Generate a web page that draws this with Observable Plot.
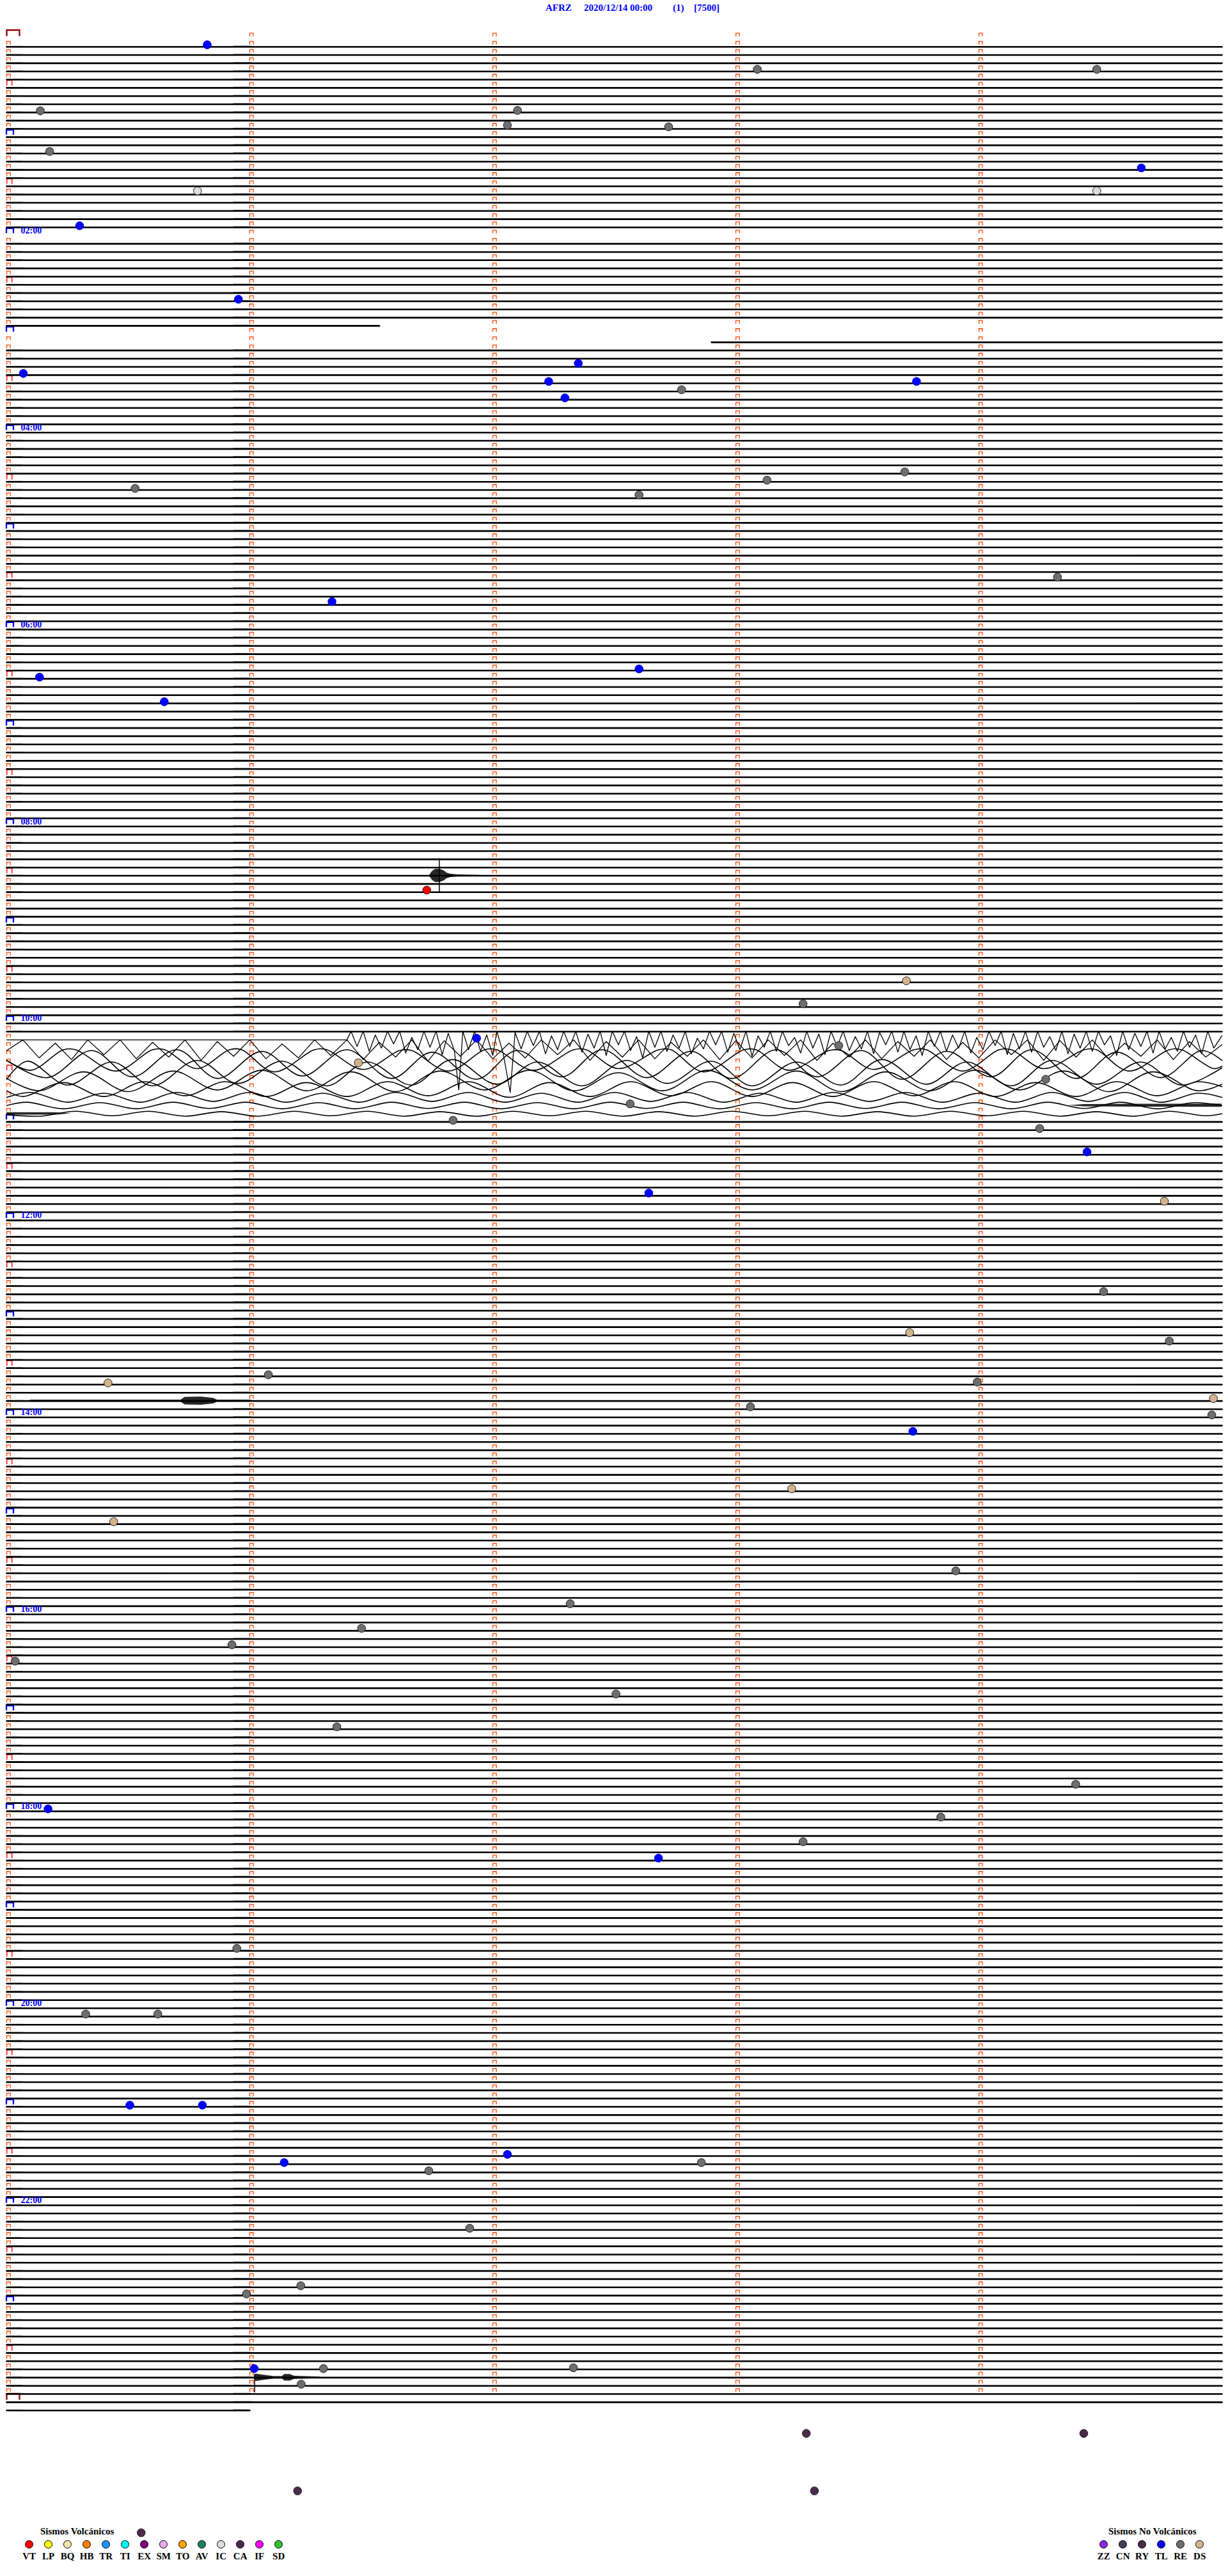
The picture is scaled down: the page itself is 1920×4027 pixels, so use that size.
<!DOCTYPE html>
<html><head><meta charset="utf-8">
<script src="https://cdn.jsdelivr.net/npm/d3@7"></script>
<script src="https://cdn.jsdelivr.net/npm/@observablehq/plot@0.6"></script>
<style>
html,body{margin:0;padding:0;background:#fff;}
body{width:1920px;height:4027px;position:relative;overflow:hidden;font-family:"Liberation Serif","Times New Roman",serif;}
#chart{position:absolute;left:0;top:0;}
.t{position:absolute;white-space:pre;font-weight:bold;color:#0000ff;font-size:15px;line-height:15px;}
.lg{position:absolute;white-space:pre;font-weight:bold;color:#000;font-size:15px;line-height:15px;}
.sw{position:absolute;width:11px;height:11px;border:1px solid #000;border-radius:50%;}
</style></head>
<body>
<div id="chart"></div>
<div id="title"></div>
<div id="legend"></div>
<script>
// ---------------- DATA ----------------
const station = "AFRZ", dateText = "2020/12/14 00:00", compText = "(1)", gainText = "[7500]";
const LINES = 289;                 // 5-minute traces, index 0..288
const LINE_SECONDS = 300;
const minuteTicks = [0, 60, 120, 180, 240];
// continuous data segments: [firstLine, startSec, lastLine, endSec]
const dataSegments = [[0, 0, 22, 300], [24, 0, 34, 92], [36, 174, 288, 60]];
const hourLabelHours = [2, 4, 6, 8, 10, 12, 14, 16, 18, 20, 22];
const hourLabels = ["02:00","04:00","06:00","08:00","10:00","12:00","14:00","16:00","18:00","20:00","22:00"];

// legend
const volcTypes  = ["VT","LP","BQ","HB","TR","TI","EX","SM","TO","AV","IC","CA","IF","SD"];
const volcColors = ["#ff0000","#ffff00","#f0e4a8","#ff8000","#1e90ff","#00ffff","#800080","#e8a8e8","#ffa500","#208060","#dcdcdc","#4a2c4a","#ff00ff","#30c030"];
const nonVolcTypes  = ["ZZ","CN","RY","TL","RE","DS"];
const nonVolcColors = ["#8a2be2","#4c3a5c","#4a2c4a","#0000ff","#6e6e6e","#d2b48c"];

// events: [type, line (fractional), second in line]
const events = [
 ["TL",-0.25,49.5],["TL",14.75,280.1],["TL",21.8,18.0],["TL",30.76,57.2],["TL",38.57,141.1],["TL",39.8,4.1],
 ["TL",40.77,133.8],["TL",40.77,224.6],["TL",42.77,137.8],["TL",67.6,80.3],["TL",75.8,156.1],["TL",76.8,8.1],
 ["TL",79.8,38.9],["TL",120.8,116.0],["TL",134.65,266.7],["TL",139.66,158.5],["TL",168.7,223.7],["TL",214.7,10.2],
 ["TL",220.7,160.9],["TL",250.8,30.4],["TL",250.8,48.3],["TL",256.8,123.6],["TL",257.8,68.5],["TL",282.9,61.1],
 ["RE",2.74,185.3],["RE",2.74,269.1],["RE",7.8,8.3],["RE",7.75,126.1],["RE",9.55,123.6],["RE",9.75,163.4],
 ["RE",12.75,10.6],["RE",41.78,166.6],["RE",53.8,31.7],["RE",52.8,187.7],["RE",51.8,221.7],["RE",54.6,156.1],
 ["RE",64.6,259.4],["RE",116.6,196.6],["RE",121.7,205.4],["RE",125.8,256.5],["RE",130.8,110.2],["RE",128.8,153.9],
 ["RE",131.8,255.0],["RE",151.67,270.8],["RE",157.7,287.0],["RE",161.8,64.6],["RE",162.7,239.6],["RE",165.7,183.6],
 ["RE",166.7,297.5],["RE",185.7,234.3],["RE",189.7,139.1],["RE",192.7,87.6],["RE",194.7,55.6],["RE",196.7,2.1],
 ["RE",200.7,150.4],["RE",204.7,81.5],["RE",211.7,263.9],["RE",215.7,230.6],["RE",218.7,196.6],["RE",231.7,56.8],
 ["RE",239.7,19.5],["RE",239.7,37.3],["RE",257.8,171.5],["RE",258.8,104.2],["RE",265.8,114.3],["RE",273.8,59.2],
 ["RE",272.8,72.6],["RE",282.9,78.2],["RE",284.8,72.7],["RE",282.8,139.9],
 ["DS",113.8,222.1],["DS",123.8,86.8],["DS",140.66,285.8],["DS",156.67,222.9],["DS",162.8,25.0],["DS",164.7,297.9],
 ["DS",175.7,193.8],["DS",179.7,26.4],
 ["VT",102.75,103.7],
 ["IC",17.55,47.1],["IC",17.55,269.1],
 ["CA",290.8,197.4],["CA",290.8,265.9],["CA",297.8,199.4],["CA",297.8,71.8],["CA",302.9,33.2]
];

// large-amplitude traces around 10:00, read as [second, offset in line units]
const wave121 = [[0,0],[84,0],[85,-1.05],[86.5,0.8],[88,-1.05],[89.5,1.4],[91,-0.6],[92.5,1.0],[94,-1.05],[95.5,0.5],[97,-1.05],[98.5,1.6],[100,-0.3],[101.5,1.2],[103,-1.05],[104.5,0.9],[106,-1.05],[107.5,1.8],[109,-0.8],[110.5,1.3],[111.6,6.1],[112.6,-1.05],[114,1.2],[115.5,-1.05],[117,1.4],[118.5,-0.6],[120,1.9],[121,-1.05],[122.5,1.5],[124.3,6.4],[125.5,-0.9],[127,1.1],[128.5,-1.05],[130,0.7],[131.5,-1.05],[133,1.7],[134.5,-0.5],[136,1.2],[137.5,-1.05],[139,0.8],[140.5,-1.05],[142,1.5],[143.5,-0.7],[145,1.0],[146.5,-1.05],[148,1.9],[149.5,-1.05],[151,0.6],[152.5,-1.05],[154,1.3],[155.5,-0.4],[157,2.2],[158.5,-1.05],[160,0.9],[161.5,-1.05],[163,1.4],[164.5,-0.6],[166,1.0],[167.5,-1.05],[169,1.7],[170.5,-0.2],[172,1.1],[173.5,-1.05],[175,0.6],[176.5,-1.05],[178,1.5],[179.5,-0.8],[181,1.2],[182.5,-1.05],[184,2.0],[185.5,-0.5],[187,0.9],[188.5,-1.05],[190,1.4],[191.5,-1.05],[193,0.7],[194.5,-0.3],[196,1.6],[197.5,-1.05],[199,1.0],[200.5,-0.7],[202,1.8],[203.5,-1.05],[205,0.8],[206.5,-1.05],[208,1.3],[209.5,-0.4],[211,1.1],[212.5,-1.05],[214,1.7],[215.5,-0.9],[217,0.6],[218.5,-1.05],[220,1.5],[221.5,-1.05],[223,1.2],[224.5,-0.5],[226,1.9],[227.5,-1.05],[229,0.8],[230.5,-1.05],[232,1.4],[233.5,-0.6],[235,1.0],[236.5,-1.05],[238,1.6],[239.5,-0.3],[241,1.2],[242.5,-1.05],[244,0.7],[245.5,-1.05],[247,1.8],[248.5,-0.8],[250,1.1],[251.5,-1.05],[253,1.5],[254.5,-1.05],[256,0.9],[257.5,-0.4],[259,1.3],[260.5,-1.05],[262,1.7],[263.5,-0.7],[265,1.0],[266.5,-1.05],[268,1.4],[269.5,-1.05],[271,0.6],[272.5,-0.5],[274,1.9],[275.5,-1.05],[277,1.2],[278.5,-0.8],[280,0.8],[281.5,-1.05],[283,1.6],[284.5,-1.05],[286,1.1],[287.5,-0.3],[289,1.4],[290.5,-1.05],[292,0.9],[293.5,-0.6],[295,1.7],[296.5,-1.05],[298,1.0],[300,-0.5]];
const wave122 = [[0,0.3],[4,-1.0],[8,1.2],[12,-0.6],[16,1.4],[20,-1.0],[24,0.8],[28,-1.0],[32,1.3],[36,-0.7],[40,1.1],[44,-1.0],[48,1.5],[52,-0.8],[56,1.0],[60,-1.0],[64,1.3],[68,-0.5],[72,1.2],[76,-1.0],[80,0.9],[84,-1.0],[88,1.4],[92,-0.7],[96,1.1],[100,-1.0],[104,1.6],[108,-0.9],[112,1.0],[116,-1.0],[120,1.3],[124,-0.6],[128,1.2],[132,-1.0],[136,0.8],[140,-1.0],[144,1.5],[148,-0.8],[152,1.1],[156,-1.0],[160,1.3],[164,-0.7],[168,1.0],[172,-1.0],[176,1.4],[180,-0.9],[184,1.2],[188,-1.0],[192,0.9],[196,-1.0],[200,1.5],[204,-0.6],[208,1.1],[212,-1.0],[216,1.3],[220,-0.8],[224,1.0],[228,-1.0],[232,1.4],[236,-0.7],[240,1.2],[244,-1.0],[248,0.8],[252,-1.0],[256,1.5],[260,-0.9],[264,1.1],[268,-1.0],[272,1.3],[276,-0.6],[280,1.0],[284,-1.0],[288,1.4],[292,-0.8],[296,1.1],[300,-0.4]];
const wave123 = [[0,0.5],[6,1.7],[14,-0.8],[17,-0.8],[27,1.8],[36,-0.8],[39,-0.8],[47,1.5],[55,-0.8],[58,-0.8],[66,1.9],[76,-0.8],[79,-0.8],[88,1.6],[97,-0.7],[100,-0.7],[109,1.8],[118,-0.8],[121,-0.8],[130,1.7],[140,-0.8],[143,-0.8],[151,1.5],[161,-0.8],[164,-0.8],[172,1.9],[182,-0.8],[185,-0.8],[193,1.7],[203,-0.7],[206,-0.7],[214,1.6],[224,-0.8],[227,-0.8],[236,1.8],[245,-0.8],[248,-0.8],[256,1.5],[266,-0.8],[269,-0.8],[277,1.8],[287,-0.8],[290,-0.8],[298,1.5],[300,1.2]];
const wave124 = [[0,-0.5],[10,1.6],[21,-1.7],[31,1.5],[42,-1.8],[52,1.7],[63,-1.6],[73,1.4],[84,-1.8],[95,1.7],[105,-1.5],[116,1.8],[126,-1.7],[137,1.5],[147,-1.8],[158,1.6],[169,-1.6],[179,1.7],[190,-1.8],[200,1.5],[211,-1.7],[221,1.8],[232,-1.6],[243,1.5],[253,-1.8],[264,1.7],[274,-1.5],[285,1.6],[295,-1.7],[300,-0.5]];
const wave125 = [[0,0.8],[5,-1.4],[15,1.5],[26,-1.3],[36,1.6],[47,-1.5],[57,1.3],[68,-1.4],[79,1.6],[89,-1.3],[100,1.5],[110,-1.6],[121,1.4],[131,-1.3],[142,1.6],[153,-1.5],[163,1.3],[174,-1.4],[184,1.6],[195,-1.3],[206,1.5],[216,-1.6],[227,1.4],[237,-1.3],[248,1.6],[258,-1.5],[269,1.4],[280,-1.3],[290,1.5],[300,-0.6]];
const wave126 = [[0,-0.3],[8,1.2],[19,-1.1],[30,1.3],[41,-1.2],[52,1.1],[63,-1.3],[74,1.2],[85,-1.1],[96,1.3],[107,-1.2],[118,1.1],[129,-1.3],[140,1.2],[151,-1.0],[162,1.2],[173,-1.3],[184,1.1],[195,-1.2],[206,1.3],[217,-1.1],[228,1.2],[239,-1.3],[250,1.1],[261,-1.2],[272,1.3],[283,-1.1],[294,1.2],[300,0.4]];
const wave127 = [[0,0.2],[4,0.9],[14,-0.8],[24,0.9],[34,-0.9],[44,0.8],[54,-0.9],[64,0.9],[74,-0.8],[84,0.9],[94,-0.9],[104,0.8],[114,-0.9],[124,1.0],[134,-0.8],[144,0.9],[154,-0.9],[164,0.8],[174,-0.9],[184,0.9],[194,-0.8],[204,0.9],[214,-0.9],[224,0.8],[234,-0.9],[244,0.9],[254,-0.8],[264,0.9],[274,-0.9],[284,0.8],[294,-0.9],[300,-0.3]];
const wave128 = [[0,0],[6,-0.6],[15,0.6],[24,-0.5],[33,0.6],[42,-0.6],[51,0.5],[60,-0.6],[69,0.6],[78,-0.5],[87,0.6],[96,-0.6],[105,0.5],[114,-0.6],[123,0.6],[132,-0.5],[141,0.6],[150,-0.6],[159,0.5],[168,-0.6],[177,0.6],[186,-0.5],[195,0.6],[204,-0.6],[213,0.5],[222,-0.6],[231,0.6],[240,-0.5],[249,0.6],[258,-0.6],[267,0.5],[276,-0.6],[285,0.6],[294,-0.5],[300,0]];
const wave129 = [[0,0],[5,-0.4],[14,0.4],[23,-0.35],[32,0.4],[41,-0.4],[50,0.35],[59,-0.4],[68,0.4],[77,-0.35],[86,0.4],[95,-0.4],[104,0.35],[113,-0.4],[122,0.4],[131,-0.35],[140,0.4],[149,-0.4],[158,0.35],[167,-0.4],[176,0.4],[185,-0.35],[194,0.4],[203,-0.4],[212,0.35],[221,-0.4],[230,0.4],[239,-0.35],[248,0.4],[257,-0.4],[266,0.35],[275,-0.4],[284,0.4],[293,-0.35],[300,0]];
const wave130 = [[0,0.1],[8,0.3],[17,-0.3],[26,0.25],[35,-0.3],[44,0.3],[53,-0.25],[62,0.3],[71,-0.3],[80,0.25],[89,-0.3],[98,0.3],[107,-0.25],[116,0.3],[125,-0.3],[134,0.25],[143,-0.3],[152,0.3],[161,-0.25],[170,0.3],[179,-0.3],[188,0.25],[197,-0.3],[206,0.3],[215,-0.25],[224,0.3],[233,-0.3],[242,0.25],[251,-0.3],[260,0.3],[269,-0.25],[278,0.3],[287,-0.3],[296,0.25],[300,0]];
const jaggedWaves = [[121,wave121],[122,wave122]];
const smoothWaves = [[123,wave123],[124,wave124],[125,wave125],[126,wave126],[127,wave127],[128,wave128],[129,wave129],[130,wave130]];

// bursts read from the record: line, then [second, half-amplitude in line units]
const bursts = [
 {line:101, env:[[104.3,0],[105,0.5],[105.8,0.8],[107,0.8],[108,0.6],[108.6,0.35],[109.5,0.22],[111,0.14],[113,0.1],[116.5,0.06],[117,0]]},
 {line:165, env:[[5.5,0],[6,0.12],[20,0.12],[43,0.12],[44,0.45],[48,0.5],[51,0.35],[52,0.12],[60,0.12],[61,0]]},
 {line:284, env:[[61,0.05],[61.5,0.45],[63,0.35],[66,0.15],[68,0.14],[68.6,0.4],[70,0.4],[71,0.18],[77,0.08],[78,0]]},
 {line:129, env:[[262,0],[266,0.14],[285,0.18],[300,0.2]]},
 {line:130, env:[[0,0.15],[12,0.14],[16,0]]}
];
// single large spikes: line, second, top (lines), bottom (lines)
const spikes = [[101,106.8,-2.1,2.1],[284,61.2,-0.4,1.85]];
// recurring noisy stretches seen on every trace: [fromSec, toSec, half-amplitude]
const recurringNoise = [[0,4,0.07],[56,60.5,0.1]];

// ---------------- BUILD ----------------
const typeColor = new Map([...volcTypes.map((t,i)=>[t,volcColors[i]]), ...nonVolcTypes.map((t,i)=>[t,nonVolcColors[i]])]);
const jagMap = new Map(jaggedWaves), smoothMap = new Map(smoothWaves);
const traces = [], jagTraces = [], smoothTraces = [], noiseRects = [];
for (let k = 0; k < LINES; k++) {
  for (const [k1,s1,k2,s2] of dataSegments) {
    if (k < k1 || k > k2) continue;
    const a = k===k1 ? s1 : 0, b = k===k2 ? s2 : LINE_SECONDS;
    const w = jagMap.get(k) || smoothMap.get(k);
    if (w) {
      const target = jagMap.has(k) ? jagTraces : smoothTraces;
      for (const [s,o] of w) if (s>=a && s<=b) target.push({id:k, line:k+o, sec:s});
    } else {
      traces.push({id:k, line:k, sec:a}); traces.push({id:k, line:k, sec:b});
      for (const [f,t,amp] of recurringNoise) {
        const x1 = Math.max(f,a), x2 = Math.min(t,b);
        if (x2 > x1) noiseRects.push({x1, x2, y1:k-amp, y2:k+amp});
      }
    }
  }
}
const burstPts = bursts.flatMap((b,i)=>b.env.map(([s,a])=>({id:i, sec:s, lo:b.line-a, hi:b.line+a})));
const spikeData = spikes.map(([l,s,t,b])=>({sec:s, y1:l+t, y2:l+b}));

const smallBr = [], halfBr = [], hourBr = [], dayBr = [];
for (let k = -1; k <= 287; k++) {
  for (const m of minuteTicks) {
    if (m > 0) { if (k <= 286) smallBr.push({line:k, sec:m}); continue; }
    if (k === -1 || k === 287) dayBr.push({line:k, sec:0});
    else if (k % 12 === 11) hourBr.push({line:k, sec:0});
    else if (k % 12 === 5) halfBr.push({line:k, sec:0});
    else smallBr.push({line:k, sec:0});
  }
}
const cap = (w,h) => ({draw(ctx){ctx.moveTo(-w/2,h/2);ctx.lineTo(-w/2,-h/2);ctx.lineTo(w/2,-h/2);ctx.lineTo(w/2,h/2);}});
const labelData = hourLabelHours.map((h,i)=>({line:12*h-1, sec:0, text:hourLabels[i]}));
const eventData = events.map(([type,line,sec])=>({type,line,sec}));

const plot = Plot.plot({
  width:1920, height:4027, margin:0,
  x:{domain:[0,LINE_SECONDS], range:[10,1910], axis:null},
  y:{domain:[0,288], range:[72.7,3767.7], axis:null},
  style:{background:"transparent", overflow:"visible"},
  marks:[
    Plot.dot(smallBr, {x:"sec", y:"line", symbol:cap(5.5,5), stroke:"#ff4500", fill:"none", strokeWidth:1.3, dx:2.8, dy:-6}),
    Plot.dot(halfBr, {x:"sec", y:"line", symbol:cap(8,8), stroke:"#ff0000", fill:"none", strokeWidth:1.4, dx:4.2, dy:-7.7}),
    Plot.dot(hourBr, {x:"sec", y:"line", symbol:cap(11,7.5), stroke:"#0000ff", fill:"none", strokeWidth:2.3, dx:5, dy:-7.6}),
    Plot.dot(dayBr, {x:"sec", y:"line", symbol:cap(20,9.5), stroke:"#8b0000", fill:"none", strokeWidth:2.3, dx:10, dy:-8.6}),
    Plot.rect(noiseRects, {x1:"x1", x2:"x2", y1:"y1", y2:"y2", fill:"#000", fillOpacity:0.6}),
    Plot.line(traces, {x:"sec", y:"line", z:"id", stroke:"#000", strokeWidth:2.6}),
    Plot.line(jagTraces, {x:"sec", y:"line", z:"id", stroke:"#000", strokeWidth:1.3, curve:"linear"}),
    Plot.line(smoothTraces, {x:"sec", y:"line", z:"id", stroke:"#000", strokeWidth:1.6, curve:"catmull-rom"}),
    Plot.areaY(burstPts, {x:"sec", y1:"lo", y2:"hi", z:"id", fill:"#000", fillOpacity:0.85, curve:"linear"}),
    Plot.ruleX(spikeData, {x:"sec", y1:"y1", y2:"y2", stroke:"#000", strokeWidth:1.5}),
    Plot.text(labelData, {x:"sec", y:"line", text:"text", fill:"#0000ff", fontSize:14, fontWeight:"bold", fontFamily:"Liberation Serif", textAnchor:"start", lineAnchor:"bottom", dx:22, dy:-3.5}),
    Plot.dot(eventData, {x:"sec", y:"line", r:6.3, fill:d=>typeColor.get(d.type), stroke:d=>d.type==="TL"?"#0000cc":"#202020", strokeWidth:1})
  ]
});
document.getElementById("chart").appendChild(plot);

// title
const title = document.getElementById("title");
[[station,853],[dateText,913],[compText,1052],[gainText,1085]].forEach(([t,x])=>{
  const s=document.createElement("div"); s.className="t"; s.textContent=t; s.style.left=x+"px"; s.style.top="5px"; title.appendChild(s);
});
// legend
const lg = document.getElementById("legend");
function addText(t,x,y,center){const d=document.createElement("div");d.className="lg";d.textContent=t;d.style.top=y+"px";
  if(center){d.style.left=(x-30)+"px";d.style.width="60px";d.style.textAlign="center";}else d.style.left=x+"px";lg.appendChild(d);}
function addSw(c,x,y){const d=document.createElement("div");d.className="sw";d.style.background=c;d.style.left=(x-6.5)+"px";d.style.top=(y-6.5)+"px";lg.appendChild(d);}
addText("Sismos Volcánicos",63,3950,false);
volcTypes.forEach((t,i)=>{addSw(volcColors[i],45.7+30*i,3977.7);addText(t,45.7+30*i,3989,true);});
addText("Sismos No Volcánicos",1733,3950,false);
nonVolcTypes.forEach((t,i)=>{addSw(nonVolcColors[i],1725.7+30*i,3977.7);addText(t,1725.7+30*i,3989,true);});
</script>
</body></html>
